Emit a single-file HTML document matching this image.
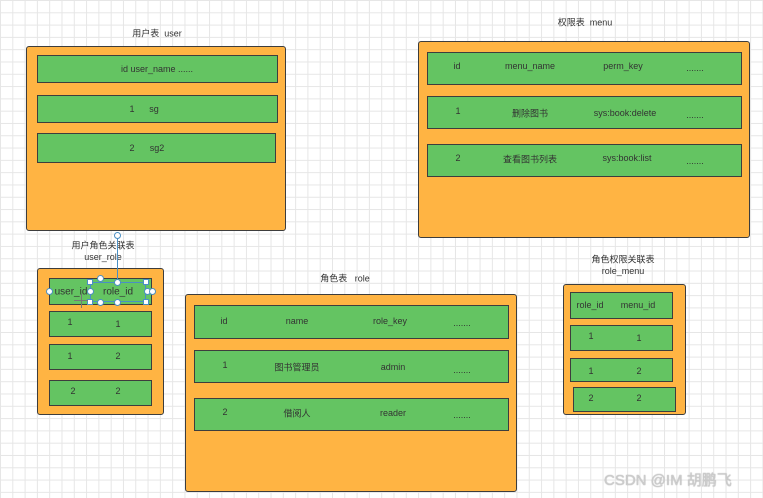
<!DOCTYPE html>
<html><head><meta charset="utf-8"><style>
body{margin:0;width:763px;height:498px;position:relative;overflow:hidden;background:#fff;
background-image:linear-gradient(#e6e6e6 1px,transparent 1px),linear-gradient(90deg,#e6e6e6 1px,transparent 1px);background-size:12.3px 12.3px;
font-family:"Liberation Sans","Noto Sans CJK SC",sans-serif;font-size:9px;color:#333}
.o{position:absolute;background:#ffb443;border:1.5px solid #3d3d3d;border-radius:3px;box-sizing:border-box}
.g{position:absolute;background:#64c462;border:1.5px solid #3d3d3d;box-sizing:border-box}
.t{position:absolute;transform:translate(-50%,-50%);white-space:nowrap}
.h{position:absolute;width:6px;height:6px;background:#fff;border:1px solid #4a8fc4;box-sizing:border-box}
.c{position:absolute;width:7px;height:7px;background:#fff;border:1px solid #4a8fc4;border-radius:50%;box-sizing:border-box}
</style></head><body>
<div class="t" style="left:157px;top:33px">用户表&nbsp; user</div>
<div class="o" style="left:26px;top:46px;width:260px;height:185px"></div>
<div class="g" style="left:37px;top:55px;width:241px;height:28px"></div>
<div class="g" style="left:37px;top:95px;width:241px;height:28px"></div>
<div class="g" style="left:37px;top:133px;width:239px;height:30px"></div>
<div class="t" style="left:157px;top:69px">id user_name ......</div>
<div class="t" style="left:132px;top:109px">1</div><div class="t" style="left:154px;top:109px">sg</div>
<div class="t" style="left:132px;top:148px">2</div><div class="t" style="left:157px;top:148px">sg2</div>

<div class="t" style="left:585px;top:22px">权限表&nbsp; menu</div>
<div class="o" style="left:418px;top:41px;width:332px;height:197px"></div>
<div class="g" style="left:427px;top:52px;width:315px;height:33px"></div>
<div class="g" style="left:427px;top:96px;width:315px;height:33px"></div>
<div class="g" style="left:427px;top:144px;width:315px;height:33px"></div>
<div class="t" style="left:457px;top:66px">id</div><div class="t" style="left:530px;top:66px">menu_name</div><div class="t" style="left:623px;top:66px">perm_key</div><div class="t" style="left:695px;top:68px">.......</div>
<div class="t" style="left:458px;top:111px">1</div><div class="t" style="left:530px;top:113px">删除图书</div><div class="t" style="left:625px;top:113px">sys:book:delete</div><div class="t" style="left:695px;top:115px">.......</div>
<div class="t" style="left:458px;top:158px">2</div><div class="t" style="left:530px;top:159px">查看图书列表</div><div class="t" style="left:627px;top:158px">sys:book:list</div><div class="t" style="left:695px;top:161px">.......</div>

<div class="t" style="left:103px;top:245px">用户角色关联表</div>
<div class="t" style="left:103px;top:257px">user_role</div>
<div class="o" style="left:37px;top:268px;width:127px;height:147px"></div>
<div class="g" style="left:49px;top:278px;width:103px;height:27px"></div>
<div class="g" style="left:49px;top:311px;width:103px;height:26px"></div>
<div class="g" style="left:49px;top:344px;width:103px;height:26px"></div>
<div class="g" style="left:49px;top:380px;width:103px;height:26px"></div>
<div style="position:absolute;left:90px;top:282px;width:56px;height:20px;border:1px solid #4a8fc4;box-sizing:border-box"></div>
<div style="position:absolute;left:117px;top:238px;width:1px;height:44px;background:#4a8fc4"></div>
<div class="c" style="left:114px;top:232px"></div>
<div class="h" style="left:87px;top:279px"></div><div class="h" style="left:143px;top:279px"></div>
<div class="h" style="left:87px;top:299px"></div><div class="h" style="left:143px;top:299px"></div>
<div class="c" style="left:46px;top:288px"></div><div class="c" style="left:87px;top:288px"></div><div class="c" style="left:144px;top:288px"></div><div class="c" style="left:149px;top:288px"></div>
<div class="c" style="left:97px;top:275px"></div><div class="c" style="left:114px;top:279px"></div><div class="c" style="left:97px;top:299px"></div><div class="c" style="left:114px;top:299px"></div>
<div style="position:absolute;left:74px;top:300px;width:14px;height:1px;background:#777"></div>
<div style="position:absolute;left:81px;top:294px;width:1px;height:14px;background:#777"></div>
<div class="t" style="left:71px;top:292px;font-size:10px">user_id</div><div class="t" style="left:118px;top:292px;font-size:10px">role_id</div>
<div class="t" style="left:70px;top:322px">1</div><div class="t" style="left:118px;top:324px">1</div>
<div class="t" style="left:70px;top:356px">1</div><div class="t" style="left:118px;top:356px">2</div>
<div class="t" style="left:73px;top:391px">2</div><div class="t" style="left:118px;top:391px">2</div>

<div class="t" style="left:345px;top:278px">角色表&nbsp;&nbsp; role</div>
<div class="o" style="left:185px;top:294px;width:332px;height:198px"></div>
<div class="g" style="left:194px;top:305px;width:315px;height:34px"></div>
<div class="g" style="left:194px;top:350px;width:315px;height:33px"></div>
<div class="g" style="left:194px;top:398px;width:315px;height:33px"></div>
<div class="t" style="left:224px;top:321px">id</div><div class="t" style="left:297px;top:321px">name</div><div class="t" style="left:390px;top:321px">role_key</div><div class="t" style="left:462px;top:323px">.......</div>
<div class="t" style="left:225px;top:365px">1</div><div class="t" style="left:297px;top:367px">图书管理员</div><div class="t" style="left:393px;top:367px">admin</div><div class="t" style="left:462px;top:370px">.......</div>
<div class="t" style="left:225px;top:412px">2</div><div class="t" style="left:297px;top:413px">借阅人</div><div class="t" style="left:393px;top:413px">reader</div><div class="t" style="left:462px;top:415px">.......</div>

<div class="t" style="left:623px;top:259px">角色权限关联表</div>
<div class="t" style="left:623px;top:271px">role_menu</div>
<div class="o" style="left:563px;top:284px;width:123px;height:131px"></div>
<div class="g" style="left:570px;top:292px;width:103px;height:27px"></div>
<div class="g" style="left:570px;top:325px;width:103px;height:26px"></div>
<div class="g" style="left:570px;top:358px;width:103px;height:24px"></div>
<div class="g" style="left:573px;top:387px;width:103px;height:25px"></div>
<div class="t" style="left:590px;top:305px">role_id</div><div class="t" style="left:638px;top:305px">menu_id</div>
<div class="t" style="left:591px;top:336px">1</div><div class="t" style="left:639px;top:338px">1</div>
<div class="t" style="left:591px;top:371px">1</div><div class="t" style="left:639px;top:371px">2</div>
<div class="t" style="left:591px;top:398px">2</div><div class="t" style="left:639px;top:398px">2</div>

<div style="position:absolute;left:604px;top:469px;font-size:15px;color:#ccc;text-shadow:0 0 1px #999;white-space:nowrap">CSDN @IM 胡鹏飞</div>
</body></html>
